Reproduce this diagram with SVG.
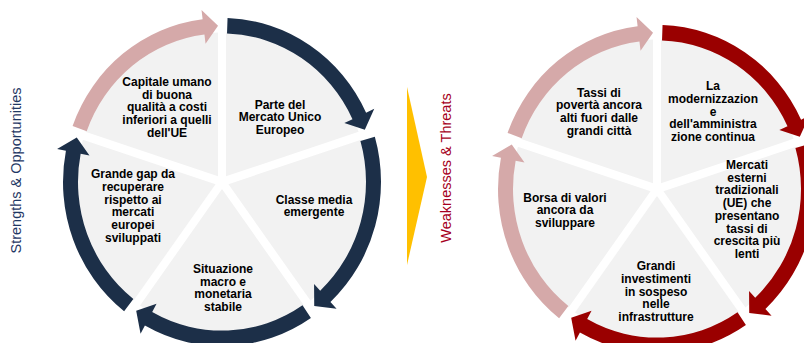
<svg xmlns="http://www.w3.org/2000/svg" width="804" height="343" viewBox="0 0 804 343">
<defs>
<style>
.pie{fill:#F2F2F2}
.navy{fill:#1C2F48}
.pink{fill:#D5A9A9}
.red{fill:#9A0000}
.t{font-family:"Liberation Sans",Arial,sans-serif;font-weight:bold;font-size:12px;fill:#000000;text-anchor:middle}
.side{font-family:"Liberation Sans",Arial,sans-serif;font-size:14.5px;text-anchor:middle}
</style>
<path id="wedge" d="M4.0,-5.5 L4.0,-144.94 A145,145 0 0 1 136.62,-48.59 Z"/>
<path id="arc" d="M5.55,-158.90 A159,159 0 0 1 144.10,-67.20 L152.26,-71.00 L142.81,-50.57 L122.35,-57.05 L130.51,-60.86 A144,144 0 0 0 5.03,-143.91 Z"/>
</defs>
<rect width="804" height="343" fill="#FFFFFF"/>

<!-- Left cycle nodes -->
<g id="node-parte">
<use href="#wedge" class="pie" transform="translate(222,182) scale(1,1.032)"/>
<text class="t"><tspan x="280" y="108.5">Parte del</tspan><tspan x="280" y="121.2">Mercato Unico</tspan><tspan x="280" y="133.9">Europeo</tspan></text>
</g>
<g id="node-classe">
<use href="#wedge" class="pie" transform="translate(222,182) scale(1,1.032) rotate(72)"/>
<text class="t"><tspan x="314" y="203.5">Classe media</tspan><tspan x="314" y="216.2">emergente</tspan></text>
</g>
<g id="node-situazione">
<use href="#wedge" class="pie" transform="translate(222,182) scale(1,1.032) rotate(144)"/>
<text class="t"><tspan x="223" y="273">Situazione</tspan><tspan x="223" y="285.7">macro e</tspan><tspan x="223" y="298.4">monetaria</tspan><tspan x="223" y="311.1">stabile</tspan></text>
</g>
<g id="node-grande">
<use href="#wedge" class="pie" transform="translate(222,182) scale(1,1.032) rotate(216)"/>
<text class="t"><tspan x="133" y="178.3">Grande gap da</tspan><tspan x="133" y="191">recuperare</tspan><tspan x="133" y="203.7">rispetto ai</tspan><tspan x="133" y="216.4">mercati</tspan><tspan x="133" y="229.1">europei</tspan><tspan x="133" y="241.8">sviluppati</tspan></text>
</g>
<g id="node-capitale">
<use href="#wedge" class="pie" transform="translate(222,182) scale(1,1.032) rotate(288)"/>
<text class="t"><tspan x="167" y="86">Capitale umano</tspan><tspan x="167" y="98.7">di buona</tspan><tspan x="167" y="111.4">qualità a costi</tspan><tspan x="167" y="124.1">inferiori a quelli</tspan><tspan x="167" y="136.8">dell'UE</tspan></text>
</g>

<!-- Right cycle nodes -->
<g id="node-modernizzazione">
<use href="#wedge" class="pie" transform="translate(657,189) scale(1,1.032)"/>
<text class="t"><tspan x="713" y="90.3">La</tspan><tspan x="713" y="103">modernizzazion</tspan><tspan x="713" y="115.7">e</tspan><tspan x="713" y="128.4">dell'amministra</tspan><tspan x="713" y="141.1">zione continua</tspan></text>
</g>
<g id="node-mercati">
<use href="#wedge" class="pie" transform="translate(657,189) scale(1,1.032) rotate(72)"/>
<text class="t"><tspan x="747" y="169">Mercati</tspan><tspan x="747" y="181.7">esterni</tspan><tspan x="747" y="194.4">tradizionali</tspan><tspan x="747" y="207.1">(UE) che</tspan><tspan x="747" y="219.8">presentano</tspan><tspan x="747" y="232.5">tassi di</tspan><tspan x="747" y="245.2">crescita più</tspan><tspan x="747" y="257.9">lenti</tspan></text>
</g>
<g id="node-grandi">
<use href="#wedge" class="pie" transform="translate(657,189) scale(1,1.032) rotate(144)"/>
<text class="t"><tspan x="656" y="270.3">Grandi</tspan><tspan x="656" y="283">investimenti</tspan><tspan x="656" y="295.7">in sospeso</tspan><tspan x="656" y="308.4">nelle</tspan><tspan x="656" y="321.1">infrastrutture</tspan></text>
</g>
<g id="node-borsa">
<use href="#wedge" class="pie" transform="translate(657,189) scale(1,1.032) rotate(216)"/>
<text class="t"><tspan x="565" y="201.6">Borsa di valori</tspan><tspan x="565" y="214.3">ancora da</tspan><tspan x="565" y="227">sviluppare</tspan></text>
</g>
<g id="node-tassi">
<use href="#wedge" class="pie" transform="translate(657,189) scale(1,1.032) rotate(288)"/>
<text class="t"><tspan x="599" y="96.5">Tassi di</tspan><tspan x="599" y="109.2">povertà ancora</tspan><tspan x="599" y="121.9">alti fuori dalle</tspan><tspan x="599" y="134.6">grandi città</tspan></text>
</g>

<!-- Connectors: cycle arrows -->
<g id="connectors">
<g transform="translate(222,182) scale(1,1.032)">
<use href="#arc" class="navy"/>
<use href="#arc" class="navy" transform="rotate(72)"/>
<use href="#arc" class="navy" transform="rotate(144)"/>
<use href="#arc" class="navy" transform="rotate(216)"/>
<use href="#arc" class="pink" transform="rotate(288)"/>
</g>
<g transform="translate(657,189) scale(1,1.032)">
<use href="#arc" class="red"/>
<use href="#arc" class="red" transform="rotate(72)"/>
<use href="#arc" class="red" transform="rotate(144)"/>
<use href="#arc" class="pink" transform="rotate(216)"/>
<use href="#arc" class="pink" transform="rotate(288)"/>
</g>
</g>

<!-- Side labels and divider arrow -->
<g id="label-strengths">
<text class="side" fill="#1F3864" transform="translate(20.5,170.5) rotate(-90)">Strengths &amp; Opportunities</text>
</g>
<g id="divider">
<polygon points="407,87 427,177 407,265" fill="#FFC000"/>
</g>
<g id="label-weaknesses">
<text class="side" fill="#A50021" transform="translate(451,168) rotate(-90)">Weaknesses &amp; Threats</text>
</g>
</svg>
